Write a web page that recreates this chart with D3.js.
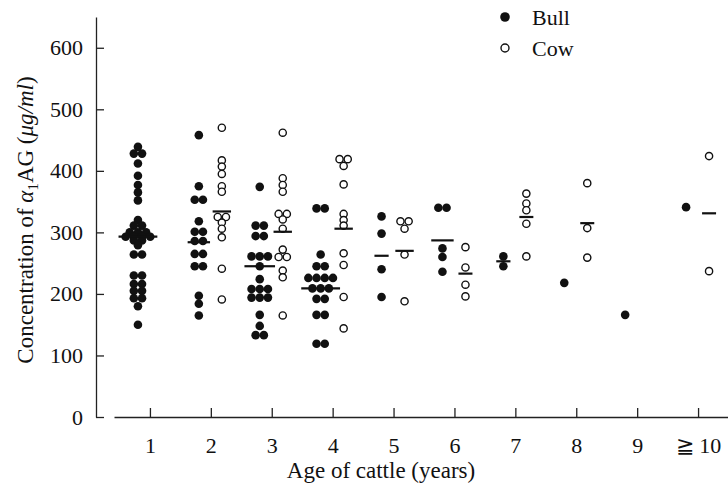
<!DOCTYPE html>
<html>
<head>
<meta charset="utf-8">
<script src="https://cdn.jsdelivr.net/npm/d3@7"></script>
<style>
  body { margin: 0; background: #fff; }
  svg text { font-family: "Liberation Serif", "DejaVu Serif", serif; fill: #111; }
</style>
</head>
<body>
<div id="chart"></div>
<script>
// ages on the x axis
var ages = ["1", "2", "3", "4", "5", "6", "7", "8", "9", "≧ 10"];

// alpha1AG concentration (ug/ml), one array per age
var bullValues = [
  [439, 428, 428, 412, 392, 377, 365, 352, 320, 311, 311, 300, 300, 300, 293, 293, 293, 293, 287, 287, 279, 264, 264, 230, 230, 216, 216, 205, 205, 193, 193, 180, 150],
  [458, 375, 353, 353, 318, 301, 301, 286, 286, 265, 265, 245, 245, 197, 184, 165],
  [374, 311, 311, 294, 294, 261, 261, 261, 245, 224, 208, 208, 208, 194, 194, 194, 166, 148, 133, 133],
  [339, 339, 264, 245, 245, 226, 226, 226, 226, 209, 209, 209, 192, 192, 166, 166, 119, 119],
  [326, 298, 240, 195],
  [340, 340, 274, 260, 236],
  [261, 245],
  [218],
  [166],
  [341]
];
var cowValues = [
  [],
  [470, 417, 407, 395, 375, 366, 325, 325, 316, 306, 292, 241, 191],
  [462, 388, 377, 366, 330, 330, 321, 306, 272, 260, 260, 238, 227, 165],
  [419, 419, 408, 378, 330, 320, 311, 266, 247, 195, 144],
  [318, 318, 306, 264, 188],
  [276, 243, 215, 196],
  [363, 347, 336, 314, 261],
  [380, 307, 259],
  [],
  [424, 237]
];
// mean bars (null = no bar drawn)
var bullMeans = [293, 284, 245, 209, 262, 287, 253, null, null, null];
var cowMeans = [null, 334, 301, 306, 270, 233, 325, 315, null, 331];

var yTicks = [0, 100, 200, 300, 400, 500, 600];
var legendItems = ["Bull", "Cow"];

var width = 728, height = 489;
var dotRadius = 4.3;
var dotStep = 8.2;
var sexOffset = {Bull: -12, Cow: 11};

var svg = d3.select("#chart").append("svg")
  .attr("width", width)
  .attr("height", height);

var x = d3.scalePoint()
  .domain(ages)
  .range([114, 734])
  .padding(0.59);

var y = d3.scaleLinear()
  .domain([0, 650])
  .range([417, 17]);

// y axis, ticks point inward
var yAxis = svg.append("g")
  .attr("transform", "translate(96,0)")
  .call(d3.axisLeft(y).tickValues(yTicks).tickSizeInner(-8).tickSizeOuter(0).tickPadding(13));
yAxis.select(".domain").attr("stroke", "#222").attr("stroke-width", 1.3);
yAxis.selectAll(".tick line").attr("stroke", "#222").attr("stroke-width", 1.3);
yAxis.selectAll(".tick text").style("font-size", "22px").attr("fill", "#111");

// x axis, ticks point up
var xAxis = svg.append("g")
  .attr("transform", "translate(0," + y(0) + ")")
  .call(d3.axisBottom(x).tickSizeInner(-9).tickSizeOuter(0).tickPadding(20));
xAxis.select(".domain").attr("stroke", "#222").attr("stroke-width", 1.3);
xAxis.selectAll(".tick line").attr("stroke", "#222").attr("stroke-width", 1.3);
xAxis.selectAll(".tick text").style("font-size", "22px").attr("fill", "#111");

// lay out dots: equal values sit side by side, centred on the column
function placeDots(values, age, sex) {
  var out = [];
  var rows = d3.group(values, function(v) { return v; });
  rows.forEach(function(list, v) {
    var k = list.length;
    list.forEach(function(d, j) {
      out.push({value: v, age: age, sex: sex, dx: (j - (k - 1) / 2) * dotStep, rowWidth: k * dotStep});
    });
  });
  return out;
}

var dots = [];
var meanBars = [];
ages.forEach(function(age, i) {
  var b = placeDots(bullValues[i], age, "Bull");
  var c = placeDots(cowValues[i], age, "Cow");
  dots = dots.concat(b, c);
  if (bullMeans[i] != null) {
    meanBars.push({age: age, sex: "Bull", value: bullMeans[i], w: Math.max(14, d3.max(b, function(d) { return d.rowWidth; }) + 6)});
  }
  if (cowMeans[i] != null) {
    meanBars.push({age: age, sex: "Cow", value: cowMeans[i], w: Math.max(14, d3.max(c, function(d) { return d.rowWidth; }) + 2)});
  }
});

svg.append("g")
  .selectAll("circle")
  .data(dots)
  .enter()
  .append("circle")
    .attr("cx", function(d) { return x(d.age) + sexOffset[d.sex] + d.dx; })
    .attr("cy", function(d) { return y(d.value); })
    .attr("r", function(d) { return d.sex == "Bull" ? dotRadius : dotRadius - 0.7; })
    .attr("fill", function(d) { return d.sex == "Bull" ? "#111" : "#fff"; })
    .attr("stroke", "#111")
    .attr("stroke-width", function(d) { return d.sex == "Bull" ? 0 : 1.4; });

svg.append("g")
  .selectAll("line")
  .data(meanBars)
  .enter()
  .append("line")
    .attr("x1", function(d) { return x(d.age) + sexOffset[d.sex] - d.w / 2; })
    .attr("x2", function(d) { return x(d.age) + sexOffset[d.sex] + d.w / 2; })
    .attr("y1", function(d) { return y(d.value); })
    .attr("y2", function(d) { return y(d.value); })
    .attr("stroke", "#111")
    .attr("stroke-width", 2.2);

// legend
var legend = svg.append("g")
  .selectAll("g")
  .data(legendItems)
  .enter()
  .append("g")
    .attr("transform", function(d, i) { return "translate(505," + (17 + i * 31) + ")"; });
legend.append("circle")
  .attr("r", function(d) { return d == "Bull" ? 4.8 : 4; })
  .attr("fill", function(d) { return d == "Bull" ? "#111" : "#fff"; })
  .attr("stroke", "#111")
  .attr("stroke-width", function(d) { return d == "Bull" ? 0 : 1.4; });
legend.append("text")
  .attr("x", 27)
  .attr("y", 8)
  .style("font-size", "22px")
  .text(function(d) { return d; });

// axis titles
svg.append("text")
  .attr("x", 381)
  .attr("y", 478)
  .attr("text-anchor", "middle")
  .style("font-size", "23px")
  .text("Age of cattle (years)");

var yTitle = svg.append("text")
  .attr("transform", "translate(33,220) rotate(-90)")
  .attr("text-anchor", "middle")
  .style("font-size", "23px");
yTitle.append("tspan").text("Concentration of ");
yTitle.append("tspan").style("font-style", "italic").text("α");
yTitle.append("tspan").attr("dy", 5).style("font-size", "15px").text("1");
yTitle.append("tspan").attr("dy", -5).text("AG (");
yTitle.append("tspan").style("font-style", "italic").text("μg/ml");
yTitle.append("tspan").text(")");
</script>
</body>
</html>
